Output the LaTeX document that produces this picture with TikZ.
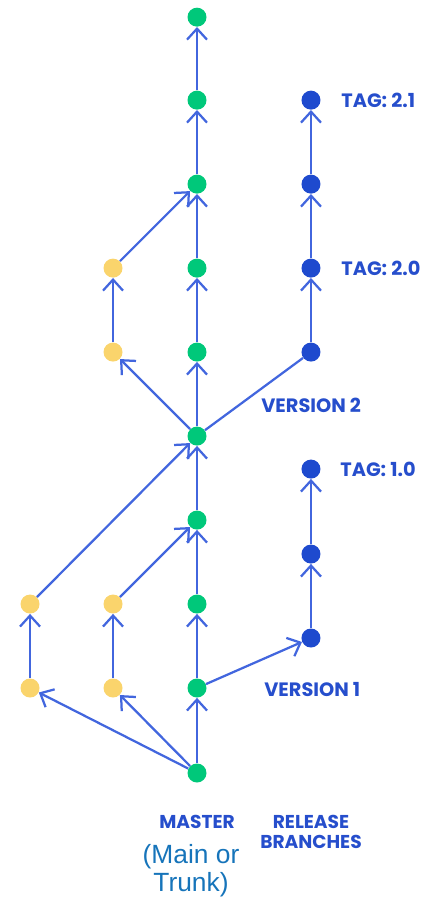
\documentclass[tikz,border=0pt]{standalone}
\usepackage{fontspec}
\setmainfont{Poppins}
\newfontfamily\trunkfont{Liberation Sans}
\usetikzlibrary{positioning,arrows.meta}
\definecolor{edgeblue}{RGB}{66,102,222}
\definecolor{gitgreen}{RGB}{0,200,122}
\definecolor{gityellow}{RGB}{250,212,108}
\definecolor{gitblue}{RGB}{30,74,206}
\definecolor{textblue}{RGB}{38,78,204}
\definecolor{trunkblue}{RGB}{22,116,186}
\tikzset{
	commit/.style={circle, minimum size=0.38cm, inner sep=0pt},
	master node/.style={commit, fill=gitgreen},
	feature node/.style={commit, fill=gityellow},
	release node/.style={commit, fill=gitblue},
	my edge/.style={-{Straight Barb[length=2.2mm,width=4mm]}, line width=0.45mm, edgeblue},
	plain edge/.style={-, line width=0.45mm, edgeblue},
	tag/.style={font=\fontsize{11}{13}\selectfont\bfseries, text=textblue, inner sep=0pt, anchor=west},
	branch/.style={font=\fontsize{10.6}{11}\selectfont\bfseries, text=textblue, inner sep=0pt, align=center},
	trunk/.style={font=\trunkfont\fontsize{15}{16}\selectfont, text=trunkblue, inner sep=0pt, align=center}
}
\begin{document}
\begin{tikzpicture}[x=0.02cm, y=-0.02cm, node distance=1.68cm, on grid]
	\useasboundingbox (0,0) rectangle (422,899);
	% master
	\node[master node] (m0) at (197,773) {};
	\node[master node] (m1) [above=1.7cm of m0] {};
	\node[master node] (m2) [above=of m1] {};
	\node[master node] (m3) [above=of m2] {};
	\node[master node] (m4) [above=of m3] {};
	\node[master node] (m5) [above=of m4] {};
	\node[master node] (m6) [above=of m5] {};
	\node[master node] (m7) [above=of m6] {};
	\node[master node] (m8) [above=of m7] {};
	\node[master node] (m9) [above=1.66cm of m8] {};
	% feature branches
	\node[feature node] (f2a) [left=of m1] {};
	\node[feature node] (f2b) [above=of f2a] {};
	\node[feature node] (f1a) [left=1.66cm of f2a] {};
	\node[feature node] (f1b) [above=of f1a] {};
	\node[feature node] (f3a) [left=of m5] {};
	\node[feature node] (f3b) [left=of m6] {};
	% release branches
	\node[release node] (r1a) [above right=1.0cm and 2.28cm of m1] {};
	\node[release node] (r1b) [above=of r1a] {};
	\node[release node] (r1c) [above=1.7cm of r1b] {};
	\node[release node] (r2a) [right=2.28cm of m5] {};
	\node[release node] (r2b) [above=of r2a] {};
	\node[release node] (r2c) [above=of r2b] {};
	\node[release node] (r2d) [above=of r2c] {};
	% edges
	\foreach \a/\b in {m0/m1, m1/m2, m2/m3, m3/m4, m4/m5, m5/m6, m6/m7, m7/m8, m8/m9,
		m0/f1a, f1a/f1b, f1b/m4, m0/f2a, f2a/f2b, f2b/m3,
		m4/f3a, f3a/f3b, f3b/m7,
		m1/r1a, r1a/r1b, r1b/r1c, r2a/r2b, r2b/r2c, r2c/r2d}
		\draw[my edge] (\a) -- (\b);
	\draw[plain edge] (m4) -- (r2a);
	% labels
	\node[tag] (tag21) at (341,100) {TAG: 2.1};
	\node[tag] (tag20) at (341,268) {TAG: 2.0};
	\node[tag] (tag10) at (340,469) {TAG: 1.0};
	\node[tag] (ver2) at (261,405) {VERSION 2};
	\node[tag] (ver1) at (264,690) {VERSION 1};
	\node[branch] (master) at (197,822) {MASTER};
	\node[branch] (release) at (311,832) {RELEASE\\BRANCHES};
	\node[trunk] (mainor) at (191,871) {(Main or\\Trunk)};
\end{tikzpicture}
\end{document}
